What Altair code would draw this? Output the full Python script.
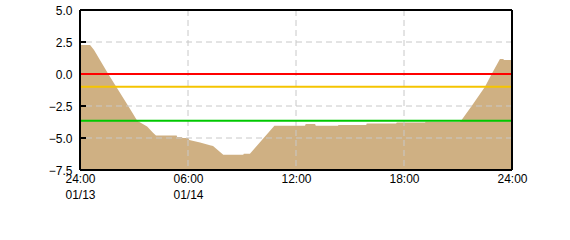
import altair as alt
import pandas as pd

# ---- data ----
hours = [0, 0.56, 0.78, 1.57, 2.68, 3.18, 3.73, 4.07, 4.22, 5.37, 5.40, 5.65, 5.70, 6.02,
         6.07, 6.67, 7.22, 7.39, 7.96, 9.07, 9.10, 9.44, 10.80, 12.50, 12.54, 13.06, 13.10,
         14.33, 14.36, 15.90, 15.93, 17.56, 17.60, 19.17, 19.20, 21.10, 21.17, 21.76, 22.50,
         22.87, 23.33, 23.52, 23.55, 24.0]
values = [2.26, 2.26, 1.87, 0.0, -2.5, -3.65, -4.10, -4.61, -4.80, -4.80, -4.92, -4.92, -5.0, -5.0,
          -5.16, -5.35, -5.57, -5.62, -6.30, -6.30, -6.23, -6.23, -4.04, -4.04, -3.91, -3.91, -4.04,
          -4.04, -3.99, -3.99, -3.87, -3.87, -3.79, -3.79, -3.73, -3.73, -3.65, -2.5, -1.0,
          0.0, 1.17, 1.17, 1.09, 1.09]

y_ticks = [5.0, 2.5, 0.0, -2.5, -5.0, -7.5]
x_ticks = [0, 6, 12, 18, 24]
x_labels = [["24:00", "01/13"], ["06:00", "01/14"], ["12:00"], ["18:00"], ["24:00"]]
thresholds = [0.0, -1.0, -3.65]
threshold_colors = ["#FF0000", "#F5C400", "#00C800"]
y_domain = [-7.5, 5.0]
x_domain = [0, 24]

df = pd.DataFrame({"h": hours, "v": values})

xs = alt.Scale(domain=x_domain, nice=False, zero=False)
ys = alt.Scale(domain=y_domain, nice=False, zero=False)

label_expr = ""
for t, lab in zip(x_ticks, x_labels):
    arr = "[" + ",".join("'" + s + "'" for s in lab) + "]"
    label_expr += f"datum.value == {t} ? {arr} : "
label_expr += "''"

xaxis = alt.Axis(values=x_ticks, labelExpr=label_expr, grid=False, domain=False, ticks=False,
                 labelFont="Liberation Sans", labelFontSize=12, labelColor="black",
                 labelPadding=3, labelLineHeight=16, labelOverlap=False, labelFlush=False,
                 labelBaseline="top", title=None)
yaxis = alt.Axis(values=y_ticks, format=".1f", grid=False, domain=False, ticks=False,
                 labelFont="Liberation Sans", labelFontSize=12, labelColor="black",
                 labelPadding=8, labelOverlap=False, labelFlush=False, labelBound=False,
                 title=None)

area = alt.Chart(df).mark_area(color="#CFB083", interpolate="linear").encode(
    x=alt.X("h:Q", scale=xs, axis=xaxis),
    y=alt.Y("v:Q", scale=ys, axis=yaxis),
    y2=alt.datum(y_domain[0]),
)

hgrid = alt.Chart(pd.DataFrame({"y": y_ticks})).mark_rule(
    color="#C8C8C8", strokeDash=[6, 4], strokeWidth=1).encode(
    y=alt.Y("y:Q", scale=ys, axis=yaxis))
vgrid = alt.Chart(pd.DataFrame({"x": x_ticks})).mark_rule(
    color="#C8C8C8", strokeDash=[6, 4], strokeWidth=1).encode(
    x=alt.X("x:Q", scale=xs, axis=xaxis))

ytickmarks = alt.Chart(pd.DataFrame({"y": y_ticks})).mark_rule(
    color="black", strokeWidth=2).encode(
    y=alt.Y("y:Q", scale=ys, axis=yaxis), x=alt.value(0), x2=alt.value(6))

thr = alt.Chart(pd.DataFrame({"y": thresholds, "c": threshold_colors})).mark_rule(
    strokeWidth=2).encode(
    y=alt.Y("y:Q", scale=ys, axis=yaxis),
    color=alt.Color("c:N", scale=None, legend=None))

frame_x = alt.Chart(pd.DataFrame({"x": x_domain})).mark_rule(
    color="black", strokeWidth=2).encode(x=alt.X("x:Q", scale=xs, axis=xaxis))
frame_y = alt.Chart(pd.DataFrame({"y": y_domain})).mark_rule(
    color="black", strokeWidth=2).encode(y=alt.Y("y:Q", scale=ys, axis=yaxis))

chart = alt.layer(area, hgrid, vgrid, ytickmarks, thr, frame_x, frame_y).properties(
    width=432, height=160,
    autosize=alt.AutoSizeParams(type="none"),
    padding={"left": 80, "top": 10, "right": 58, "bottom": 70},
    background="white",
).configure_view(stroke=None)

chart.save("out.html", embed_options={"renderer": "svg", "actions": False})
